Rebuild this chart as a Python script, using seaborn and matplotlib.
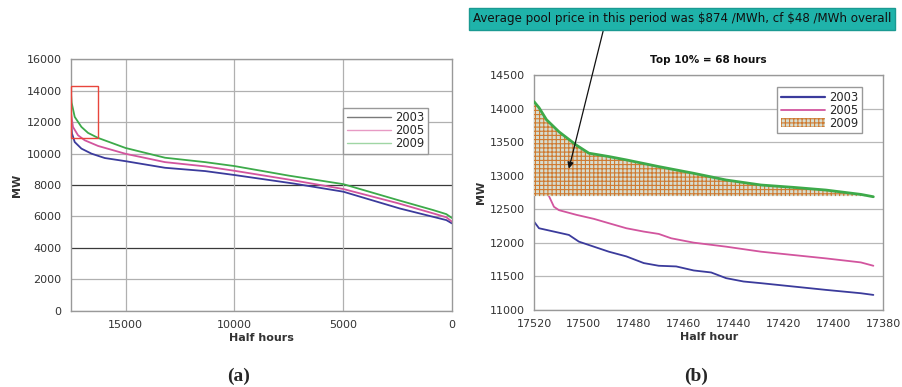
import numpy as np
import pandas as pd
import matplotlib
matplotlib.use("Agg")
import matplotlib.pyplot as plt
from matplotlib.patches import Rectangle, Patch
import seaborn as sns

sns.set_theme(style="white")
plt.rcParams["font.family"] = ["DejaVu Sans"]
plt.rcParams["hatch.linewidth"] = 0.8

years = ["2003", "2005", "2009"]
colors = {"2003": "#3b3b9c", "2005": "#d2559e", "2009": "#3daa4a"}
legend_colors_a = {"2003": "#7a7a7a", "2005": "#e79ac4", "2009": "#9fd6a4"}

# (a) full-year load duration curves: half-hour index vs demand (MW)
hh_2003 = [17520, 17462, 17337, 17028, 16567, 15954, 15000, 13188, 11345, 10000, 7290,
           5000, 2400, 870, 260, 0]
mw_2003 = [12300, 11280, 10740, 10320, 10000, 9720, 9520, 9100, 8890, 8640, 8100,
           7580, 6510, 5980, 5770, 5560]
hh_2005 = [17520, 17416, 17185, 16876, 16263, 15000, 13188, 11345, 10000, 7500, 5000,
           2500, 870, 260, 0]
mw_2005 = [12700, 11700, 11170, 10850, 10490, 9990, 9460, 9190, 8910, 8350, 7750,
           6850, 6200, 5950, 5670]
hh_2009 = [17520, 17480, 17337, 17028, 16724, 16263, 15000, 13188, 11345, 10000, 7500,
           5000, 2500, 870, 260, 0]
mw_2009 = [14100, 13250, 12340, 11700, 11320, 11000, 10360, 9740, 9460, 9210, 8600,
           8060, 7050, 6410, 6150, 5900]

# (b) top 136 half hours
top_x_2003 = [17520, 17518, 17512, 17506, 17502, 17496, 17490, 17483, 17476, 17470, 17463,
              17456, 17449, 17443, 17436, 17429, 17416, 17403, 17389, 17384]
top_y_2003 = [12320, 12220, 12170, 12120, 12020, 11945, 11870, 11800, 11700, 11660, 11650,
              11590, 11560, 11475, 11425, 11400, 11350, 11300, 11250, 11225]
top_x_2005 = [17520, 17514, 17512, 17510, 17503, 17496, 17490, 17483, 17476, 17470, 17465,
              17456, 17443, 17429, 17416, 17403, 17389, 17384]
top_y_2005 = [12900, 12700, 12540, 12490, 12420, 12360, 12295, 12220, 12170, 12135, 12070,
              12005, 11945, 11870, 11820, 11770, 11710, 11660]
top_x_2009 = [17520, 17518, 17515, 17510, 17503, 17498, 17490, 17483, 17470, 17456, 17443,
              17429, 17416, 17403, 17389, 17384]
top_y_2009 = [14110, 14020, 13840, 13660, 13460, 13340, 13290, 13240, 13140, 13040, 12940,
              12865, 12830, 12790, 12725, 12690]
fill_base = 12700


def long_frame(xs, ys):
    rows = []
    for yr, x, y in zip(years, xs, ys):
        rows.append(pd.DataFrame({"x": x, "MW": y, "year": yr}))
    return pd.concat(rows, ignore_index=True)


df_a = long_frame([hh_2003, hh_2005, hh_2009], [mw_2003, mw_2005, mw_2009])
df_b = long_frame([top_x_2003, top_x_2005, top_x_2009], [top_y_2003, top_y_2005, top_y_2009])

fig = plt.figure(figsize=(9.02, 3.87), dpi=100)
fig.patch.set_facecolor("white")

tick_kw = dict(labelsize=8, labelcolor="#333333", colors="#999999", length=3, width=0.8)
label_kw = dict(fontsize=8, color="#333333", fontweight="bold")

# ---------- (a) ----------
ax1 = fig.add_axes([0.0784, 0.197, 0.4227, 0.6496])
for y in range(0, 16001, 2000):
    c = "#3a3a3a" if y in (4000, 8000) else "#b0b0b0"
    ax1.axhline(y, color=c, lw=0.9, zorder=0)
for x in (15000, 10000, 5000):
    ax1.axvline(x, color="#b0b0b0", lw=0.9, zorder=0)
sns.lineplot(data=df_a, x="x", y="MW", hue="year", palette=colors, ax=ax1,
             lw=1.3, legend=False, sort=False, estimator=None)
ax1.set_xlim(17520, 0)
ax1.set_ylim(0, 16000)
ax1.set_xticks([15000, 10000, 5000, 0])
ax1.set_yticks(range(0, 16001, 2000))
ax1.tick_params(axis="both", **tick_kw)
ax1.set_xlabel("Half hours", labelpad=2, **label_kw)
ax1.set_ylabel("MW", labelpad=3, **label_kw)
for s in ax1.spines.values():
    s.set_color("#999999")
    s.set_linewidth(1.0)
ax1.add_patch(Rectangle((16263, 11000), 17520 - 16263, 3300, fill=False,
                        edgecolor="#e8453c", lw=1.0, zorder=5, clip_on=False))
handles_a = [plt.Line2D([], [], color=legend_colors_a[y], lw=1.0) for y in years]
leg1 = ax1.legend(handles_a, years, loc="upper left", bbox_to_anchor=(0.70, 0.83),
                  fontsize=8.3, handlelength=3.8, handletextpad=0.4, labelspacing=0.0,
                  borderpad=0.3, fancybox=False, framealpha=1, edgecolor="#999999")
leg1.get_frame().set_linewidth(1.0)

# ---------- (b) ----------
ax2 = fig.add_axes([0.592, 0.199, 0.3873, 0.606])
for y in range(11000, 14501, 500):
    ax2.axhline(y, color="#b8b8b8", lw=0.9, zorder=0)
ax2.fill_between(top_x_2009, fill_base, top_y_2009, facecolor="#d6ddd0",
                 edgecolor="#cf7a30", hatch="++++", lw=0, zorder=3)
sns.lineplot(data=df_b[df_b.year != "2009"], x="x", y="MW", hue="year", palette=colors,
             ax=ax2, lw=1.3, legend=False, sort=False, estimator=None, zorder=2)
sns.lineplot(data=df_b[df_b.year == "2009"], x="x", y="MW", color=colors["2009"],
             ax=ax2, lw=2.0, legend=False, sort=False, estimator=None, zorder=4)
ax2.set_xlim(17520, 17380)
ax2.set_ylim(11000, 14500)
ax2.set_xticks(range(17520, 17379, -20))
ax2.set_yticks(range(11000, 14501, 500))
ax2.tick_params(axis="both", **tick_kw)
ax2.set_xlabel("Half hour", labelpad=2, **label_kw)
ax2.set_ylabel("MW", labelpad=3, **label_kw)
ax2.set_title("Top 10% = 68 hours", fontsize=7.5, fontweight="bold", color="#111111", pad=9)
for s in ax2.spines.values():
    s.set_color("#999999")
    s.set_linewidth(1.0)

handles_b = [plt.Line2D([], [], color=colors["2003"], lw=1.6),
             plt.Line2D([], [], color=colors["2005"], lw=1.3),
             Patch(facecolor="#d6ddd0", edgecolor="#cf7a30", hatch="++++", lw=0)]
leg2 = ax2.legend(handles_b, years, loc="upper left", bbox_to_anchor=(0.68, 0.975),
                  fontsize=8.3, handlelength=3.8, handletextpad=0.4, labelspacing=0.0,
                  borderpad=0.3, fancybox=False, framealpha=1, edgecolor="#999999")
leg2.get_frame().set_linewidth(1.0)

# price annotation with arrow into the shaded region
ax2.annotate("Average pool price in this period was \\$874 /MWh, cf \\$48 /MWh overall",
             xy=(17506, 13110), xycoords="data",
             xytext=(0.756, 0.951), textcoords="figure fraction",
             ha="center", va="center", fontsize=8.6, color="#111111",
             bbox=dict(boxstyle="square,pad=0.35", facecolor="#1fb3aa", edgecolor="#1a9a92"),
             arrowprops=dict(arrowstyle="-|>", color="#111111", lw=0.9,
                             shrinkA=0, shrinkB=0, mutation_scale=9,
                             relpos=(0.315, 0.0)),
             zorder=10, annotation_clip=False)

fig.text(0.265, 0.028, "(a)", fontsize=14, fontweight="bold", family="Liberation Serif",
         ha="center", va="center")
fig.text(0.772, 0.028, "(b)", fontsize=14, fontweight="bold", family="Liberation Serif",
         ha="center", va="center")

fig.savefig("out.png", dpi=100, facecolor="white")
